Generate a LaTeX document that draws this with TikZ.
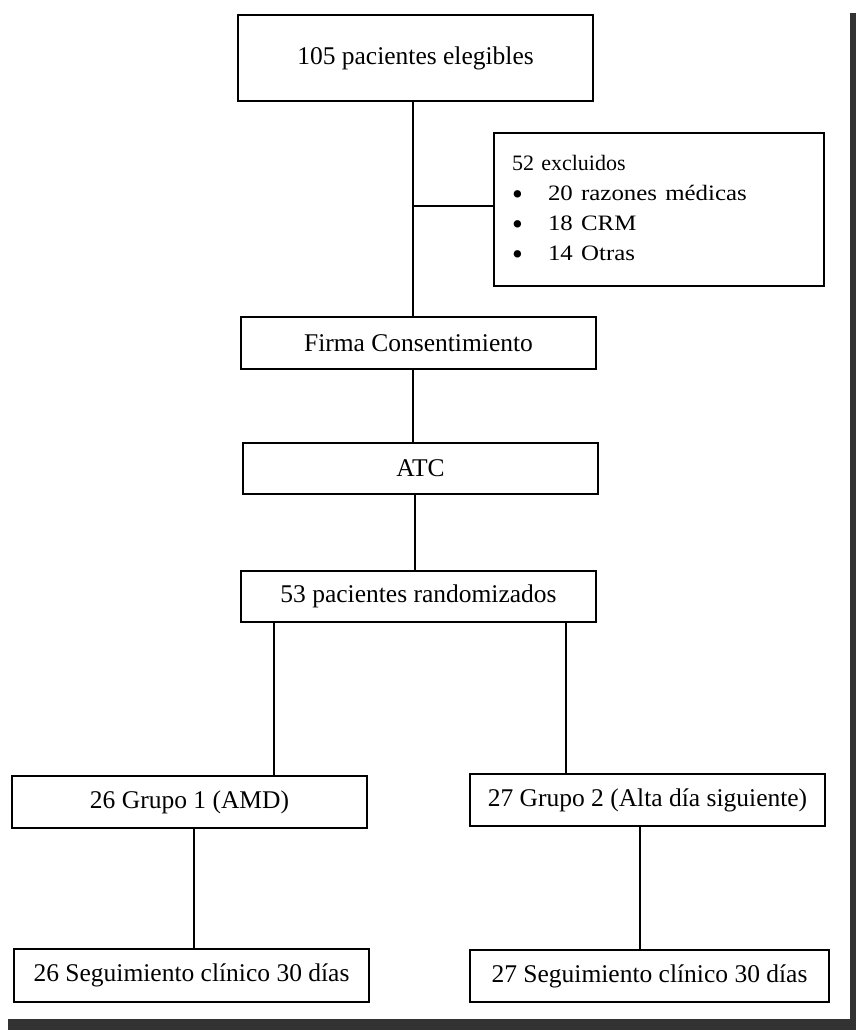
\documentclass[tikz,border=0pt]{standalone}
\usepackage{fontspec}
\usepackage{graphicx}
\setmainfont{Liberation Serif}
\newcommand{\blt}[1]{\makebox[36pt][l]{\raisebox{-4pt}{\scalebox{1.4}{\textbullet}}}\scalebox{1.13}[1]{#1}}
\begin{document}
\begin{tikzpicture}[x=1pt,y=-1pt,
  box/.style={draw, line width=1.5pt, inner sep=0pt, align=center, minimum width=355pt, minimum height=52pt, font=\fontsize{25.5}{23}\selectfont},
  link/.style={line width=1.5pt}]
\useasboundingbox (0,0) rectangle (856,1030);
\fill[white] (0,0) rectangle (856,1030);
\fill[black!80] (850,13) rectangle (856,1030);
\fill[black!80] (8,1019) rectangle (856,1030);
\node[box, minimum height=86pt] (elig) at (415.5,58) {105 pacientes elegibles};
\node[box, minimum width=330pt, minimum height=153pt, align=left, text width=294pt, inner xsep=18pt, font=\fontsize{22}{30}\selectfont] (excl) at (659,209.5)
  {52 excluidos\\
   \blt{20 razones médicas}\\
   \blt{18 CRM}\\
   \blt{14 Otras}};
\node[box] (firma) at (418.5,343) {Firma Consentimiento};
\node[box, minimum height=51pt] (atc) at (420.5,468.5) {ATC};
\node[box, minimum height=51pt] (rand) at (418.5,596.5) {53 pacientes randomizados};
\node[box] (g1) at (189.5,802) {26 Grupo 1 (AMD)};
\node[box] (g2) at (647.5,800) {27 Grupo 2 (Alta día siguiente)};
\node[box, minimum height=53pt] (s1) at (191.5,975.5) {26 Seguimiento clínico 30 días};
\node[box, minimum width=359pt] (s2) at (649.5,976) {27 Seguimiento clínico 30 días};
\coordinate (sp) at (413,0);
\coordinate (sq) at (415,0);
\coordinate (br) at (413,206);
\coordinate (b1) at (274,0);
\coordinate (b2) at (566,0);
\coordinate (c1) at (194,0);
\coordinate (c2) at (640,0);
\draw[link] (elig.south -| sp) -- (firma.north -| sp);
\draw[link] (br) -- (br -| excl.west);
\draw[link] (firma.south -| sp) -- (atc.north -| sp);
\draw[link] (atc.south -| sq) -- (rand.north -| sq);
\draw[link] (rand.south -| b1) -- (g1.north -| b1);
\draw[link] (rand.south -| b2) -- (g2.north -| b2);
\draw[link] (g1.south -| c1) -- (s1.north -| c1);
\draw[link] (g2.south -| c2) -- (s2.north -| c2);
\end{tikzpicture}
\end{document}
